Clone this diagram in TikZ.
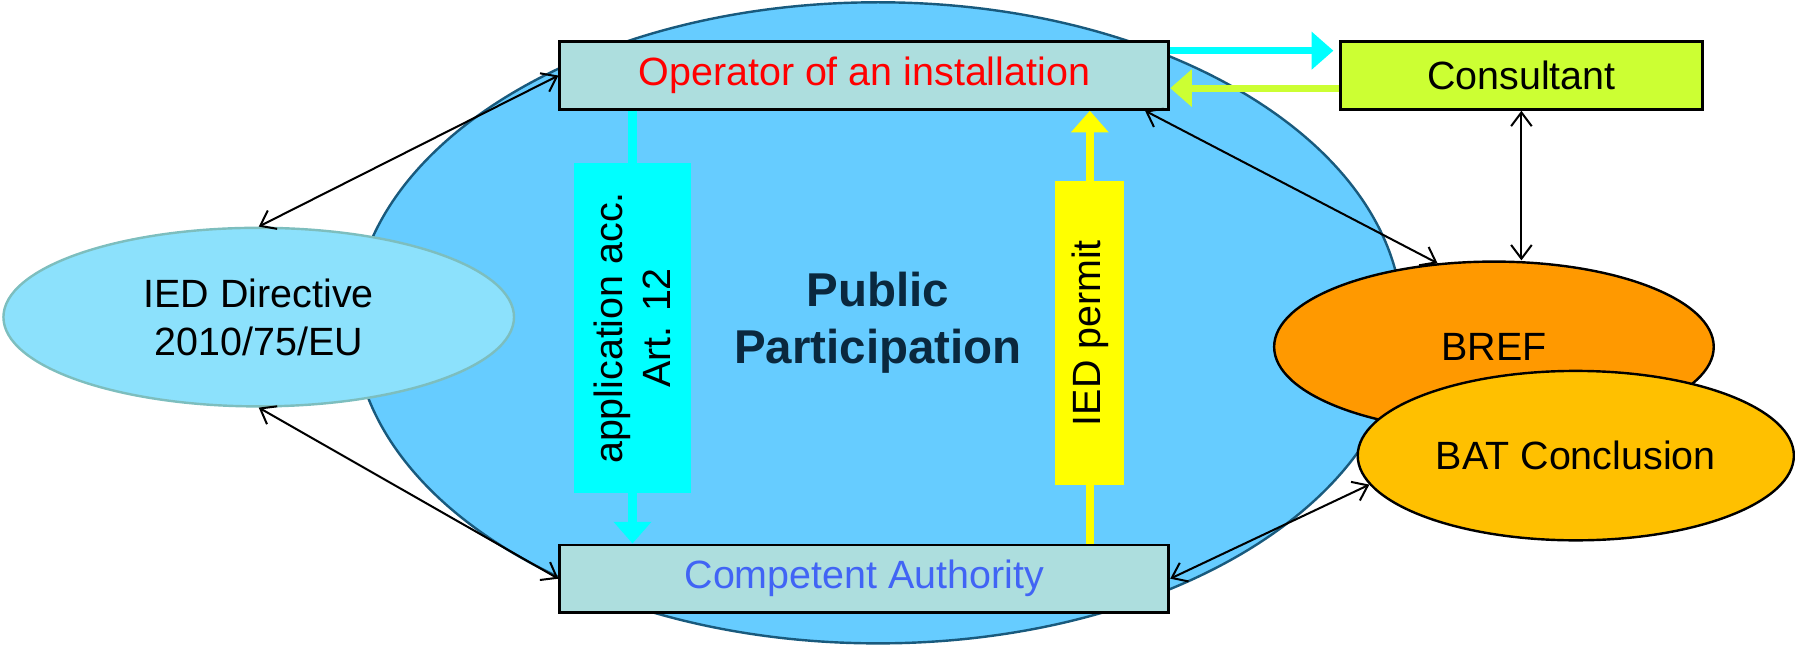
\documentclass[tikz,border=0pt]{standalone}
\usepackage{fontspec}
\setmainfont{Liberation Sans}
\usetikzlibrary{shapes.geometric,arrows.meta}

\definecolor{ppblue}{RGB}{102,204,255}
\definecolor{ppedge}{RGB}{25,90,125}
\definecolor{ppnavy}{RGB}{10,40,62}
\definecolor{iedblue}{RGB}{140,225,252}
\definecolor{iededge}{RGB}{125,190,190}
\definecolor{boxteal}{RGB}{173,222,222}
\definecolor{catext}{RGB}{65,100,245}
\definecolor{conslime}{RGB}{204,255,51}
\definecolor{aqua}{RGB}{0,255,255}
\definecolor{permyellow}{RGB}{255,255,0}
\definecolor{brefor}{RGB}{255,153,0}
\definecolor{batgold}{RGB}{255,192,0}

\begin{document}
\begin{tikzpicture}[
  every node/.style={font=\fontsize{9.8}{12}\selectfont},
  actor/.style={draw=black,line width=0.7pt,fill=boxteal,minimum width=5.32cm,minimum height=0.59cm,inner sep=0pt},
  link/.style={<->,>={Straight Barb[length=1.2mm,width=1.8mm]},line width=0.5pt},
  flow/.style={line width=#1,-{Triangle[length=1.9mm,width=3.2mm]}}
]
\useasboundingbox (0,0) rectangle (15.68,5.65);

% Public participation
\node[ellipse,draw=ppedge,line width=0.6pt,fill=ppblue,minimum width=9.16cm,minimum height=5.60cm,align=center,text=ppnavy,font=\fontsize{11.8}{14.2}\selectfont\bfseries] (pp) at (7.67,2.83) {Public\\Participation};

% Directive, BREF and BAT conclusion
\node[ellipse,draw=iededge,line width=0.6pt,fill=iedblue,minimum width=4.46cm,minimum height=1.56cm,align=center] (ied) at (2.26,2.88) {IED Directive\\ 2010/75/EU};
\node[ellipse,draw,line width=0.6pt,fill=brefor,minimum width=3.84cm,minimum height=1.49cm] (bref) at (13.05,2.62) {BREF};
\node[ellipse,draw,line width=0.6pt,fill=batgold,minimum width=3.81cm,minimum height=1.48cm] (bat) at (13.765,1.67) {BAT Conclusion};

% Actors
\node[actor,text=red] (op) at (7.55,4.99) {Operator of an installation};
\node[actor,text=catext] (ca) at (7.55,0.595) {Competent Authority};
\node[actor,fill=conslime,minimum width=3.16cm] (cons) at (13.29,4.99) {Consultant};

% Operator <-> consultant
\draw[flow=1.7pt,aqua] ([yshift=-0.09cm]op.north east) -- ([shift={(-0.05,-0.09)}]cons.north west);
\draw[flow=1.7pt,conslime] ([yshift=-0.11cm]cons.west) -- ([yshift=-0.11cm]op.east);

% Application and permit
\coordinate (appx) at (5.525,2.785);
\coordinate (permx) at (9.52,2.74);
\draw[flow=2.3pt,aqua] (appx |- op.south) -- (appx |- ca.north);
\draw[flow=1.9pt,permyellow] (permx |- ca.north) -- (permx |- op.south);
\node[fill=aqua,rotate=90,minimum width=2.89cm,minimum height=1.03cm,align=center] (app) at (appx) {application acc.\\Art. 12};
\node[fill=permyellow,rotate=90,minimum width=2.66cm,minimum height=0.60cm] (permit) at (permx) {IED permit};

% Links
\draw[link] (ied.north) -- (op.west);
\draw[link] (ied.south) -- (ca.west);
\draw[link] ([xshift=-0.22cm]op.south east) -- (bref.124);
\draw[link] (cons.south) -- (cons.south |- bref.north);
\draw[link] (ca.east) -- (bat.188);

\end{tikzpicture}
\end{document}
